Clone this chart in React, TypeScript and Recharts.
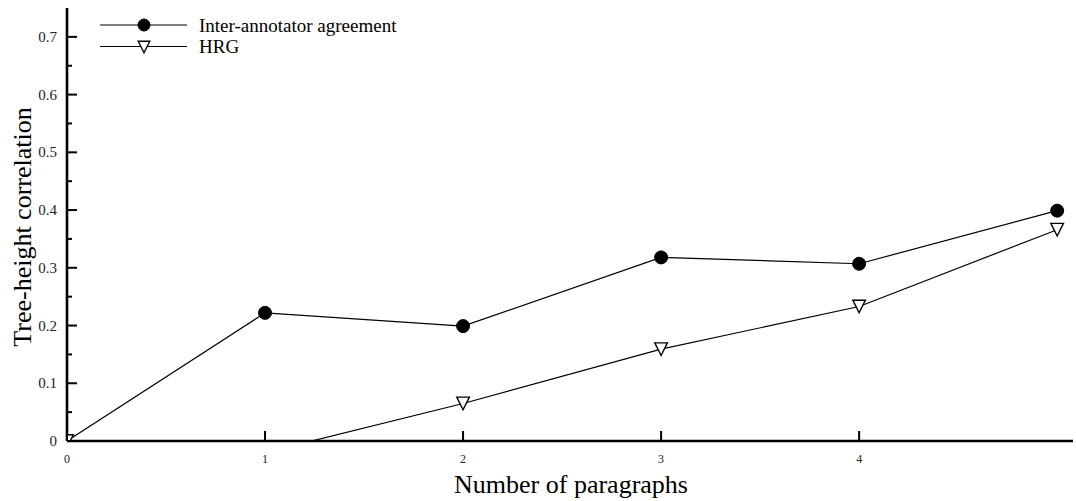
import { LineChart, Line, XAxis, YAxis, Customized } from "recharts";

const paragraphs = [0, 1, 2, 3, 4, 5];
const interAnnotator = [0, 0.222, 0.199, 0.318, 0.307, 0.399];
const hrg = [0, -0.02, 0.065, 0.159, 0.233, 0.366];

const xTicks = [0, 1, 2, 3, 4];
const yTicks = [0, 0.05, 0.1, 0.15, 0.2, 0.25, 0.3, 0.35, 0.4, 0.45, 0.5, 0.55, 0.6, 0.65, 0.7];

const seriesNames = ["Inter-annotator agreement", "HRG"];

const data = paragraphs.map((p, i) => ({
  p,
  inter: interAnnotator[i],
  hrg: hrg[i],
}));

const FONT = "'Liberation Serif', 'Times New Roman', serif";

const Circle = ({ cx, cy, r = 6.5 }: { cx: number; cy: number; r?: number }) => (
  <circle cx={cx} cy={cy} r={r} fill="#000" stroke="#000" strokeWidth={1} />
);

const Triangle = ({ cx, cy, s = 6.3 }: { cx: number; cy: number; s?: number }) => (
  <path
    d={`M${cx - s},${cy - s} L${cx + s},${cy - s} L${cx},${cy + s} Z`}
    fill="#fff"
    stroke="#000"
    strokeWidth={1.4}
  />
);

const InterDot = (props: any) => {
  const { cx, cy, index } = props;
  if (index === 0) return <g key={`i-${index}`} />;
  return <Circle key={`i-${index}`} cx={cx} cy={cy} />;
};

const HrgDot = (props: any) => {
  const { cx, cy, index } = props;
  return <Triangle key={`h-${index}`} cx={cx} cy={cy} />;
};

const YTick = (props: any) => {
  const { x, y, payload } = props;
  const v = payload.value;
  const major = Math.round(v * 100) % 10 === 0;
  return (
    <g>
      <line x1={x} x2={x + (major ? 10 : 5)} y1={y} y2={y} stroke="#000" strokeWidth={2} />
      {major && (
        <text x={x - 10} y={y} dy={5} textAnchor="end" fontSize={15} fontFamily={FONT} fill="#222">
          {v === 0 ? "0" : v.toFixed(1)}
        </text>
      )}
    </g>
  );
};

const XTick = (props: any) => {
  const { x, y, payload } = props;
  return (
    <g>
      <line x1={x} x2={x} y1={y} y2={y - 10} stroke="#000" strokeWidth={2} />
      <text x={x} y={y + 22} textAnchor="middle" fontSize={12} fontFamily={FONT} fill="#222">
        {payload.value}
      </text>
    </g>
  );
};

const Titles = () => (
  <g fontFamily={FONT} fill="#000">
    <text x={571} y={493} textAnchor="middle" fontSize={26}>
      Number of paragraphs
    </text>
    <text
      x={31}
      y={227}
      textAnchor="middle"
      fontSize={26}
      transform="rotate(-90, 31, 227)"
    >
      Tree-height correlation
    </text>
  </g>
);

const LegendBox = () => (
  <svg
    width={420}
    height={60}
    style={{ position: "absolute", left: 0, top: 0, pointerEvents: "none" }}
  >
    {seriesNames.map((name, i) => {
      const ly = i === 0 ? 25 : 46.5;
      return (
        <g key={name}>
          <line x1={100} x2={187} y1={ly} y2={ly} stroke="#000" strokeWidth={1.2} />
          {i === 0 ? <Circle cx={144} cy={ly} r={6} /> : <Triangle cx={144} cy={ly + 0.5} s={5.8} />}
          <text x={199} y={i === 0 ? 32 : 53} fontSize={19} fontFamily={FONT} fill="#000">
            {name}
          </text>
        </g>
      );
    })}
  </svg>
);

export default function App() {
  return (
    <div
      style={{
        position: "absolute",
        left: 0,
        top: 0,
        width: 1076,
        height: 501,
        background: "#fff",
      }}
    >
      <LineChart
        width={1076}
        height={501}
        data={data}
        margin={{ top: 8, right: 3, left: 0, bottom: 0 }}
      >
        <XAxis
          dataKey="p"
          type="number"
          domain={[0, 5.08]}
          allowDataOverflow
          ticks={xTicks}
          height={60}
          tickSize={0}
          tickMargin={0}
          tickLine={false}
          axisLine={{ stroke: "#000", strokeWidth: 2.6 }}
          tick={<XTick />}
          interval={0}
        />
        <YAxis
          type="number"
          domain={[0, 0.75]}
          allowDataOverflow
          ticks={yTicks}
          width={67}
          tickSize={0}
          tickMargin={0}
          tickLine={false}
          axisLine={{ stroke: "#000", strokeWidth: 2.6 }}
          tick={<YTick />}
          interval={0}
        />
        <Line
          dataKey="inter"
          stroke="#000"
          strokeWidth={1.2}
          dot={InterDot}
          activeDot={false}
          isAnimationActive={false}
        />
        <Line
          dataKey="hrg"
          stroke="#000"
          strokeWidth={1.2}
          dot={HrgDot}
          activeDot={false}
          isAnimationActive={false}
        />
        <Customized component={Titles} />
      </LineChart>
      <LegendBox />
    </div>
  );
}
